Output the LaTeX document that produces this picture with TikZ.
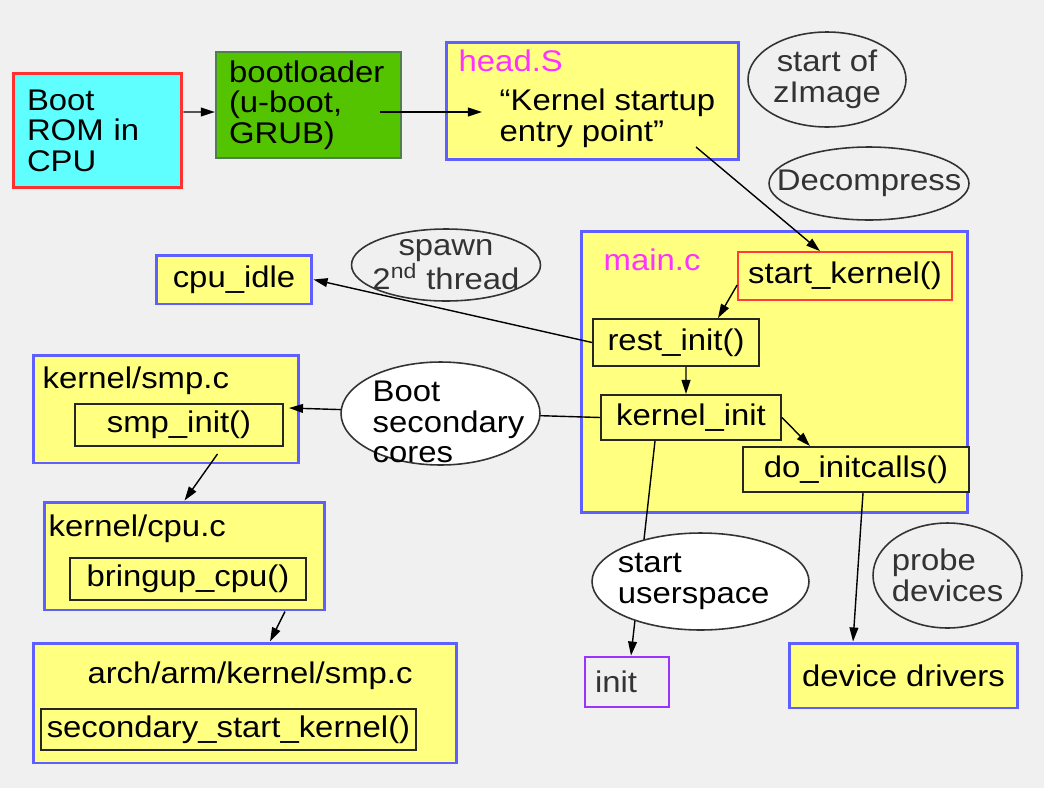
\documentclass[tikz,border=0pt]{standalone}
\usepackage{fontspec}
\setmainfont{Liberation Sans}[FakeStretch=1.1]
\usepackage{tikz}
\usetikzlibrary{shapes.geometric, arrows.meta}
\usepackage{xcolor}
\definecolor{bggray}{HTML}{F0F0F0}
\definecolor{srcyellow}{HTML}{FFFF80}
\definecolor{srcblue}{HTML}{5F5FFF}
\definecolor{romcyan}{HTML}{5FFFFF}
\definecolor{romred}{HTML}{FF3030}
\definecolor{loadgreen}{HTML}{54C400}
\definecolor{loadedge}{HTML}{4F7F4F}
\definecolor{filemagenta}{HTML}{FF33FF}
\definecolor{initpurple}{HTML}{9933FF}
\definecolor{notegray}{HTML}{333333}
\definecolor{kred}{HTML}{FF3B3B}

\begin{document}
\begin{tikzpicture}[->,>={Triangle[length=8pt,width=5pt]}, x=0.02cm, y=-0.02cm, line width=0.8pt,
      every node/.style={font=\fontsize{17}{17.4}\selectfont, inner sep=0pt},
      src/.style={draw=srcblue, line width=1.7pt, fill=srcyellow},
      fn/.style={draw=black!85, line width=1.1pt, fill=srcyellow},
      note/.style={ellipse, draw=notegray, line width=0.9pt},
      notetext/.style={text=notegray, align=center},
      bubble/.style={ellipse, draw=notegray, line width=0.9pt, fill=white},
      file/.style={text=filemagenta}]
      \useasboundingbox (0,0) rectangle (1044,788);
      \fill[bggray] (0,0) rectangle (1044,788);

      \node[draw=romred, fill=romcyan, line width=1.7pt, minimum width=3.38cm, minimum height=2.3cm,
            text width=2.82cm, align=left] (rom) at (97.5,130.5) {Boot\\ROM in\\CPU};
      \node[draw=loadedge, fill=loadgreen, line width=1.3pt, minimum width=3.7cm, minimum height=2.12cm,
            text width=3.18cm, align=left] (loader) at (308.5,105) {bootloader\\(u-boot,\\GRUB)};

      \node[src, minimum width=5.86cm, minimum height=2.36cm] (head) at (592.5,101) {};
      \node[file, anchor=base west] (headlbl) at (458,71) {head.S};
      \node[align=left, anchor=west] (entry) at (499,118) {“Kernel startup\\entry point”};

      \node[note, minimum width=3.16cm, minimum height=1.9cm,
            label={[notetext]center:start of\\zImage}] (zimg) at (827,79.5) {};
      \node[note, minimum width=4cm, minimum height=1.46cm,
            label={[notetext]center:Decompress}] (decomp) at (869,183.5) {};

      \node[src, minimum width=7.74cm, minimum height=5.64cm] (mainc) at (774.5,372) {};
      \node[file, anchor=base west] (mainlbl) at (603,270) {main.c};
      \node[fn, draw=kred, line width=1pt, minimum width=4.28cm, minimum height=0.96cm] (kstart) at (845,276) {start\_kernel()};
      \node[fn, minimum width=3.32cm, minimum height=0.94cm] (rest) at (676,342.5) {rest\_init()};
      \node[fn, minimum width=3.6cm, minimum height=0.9cm] (kinit) at (691,417.5) {kernel\_init};
      \node[fn, minimum width=4.52cm, minimum height=0.9cm] (initcalls) at (856,469.5) {do\_initcalls()};

      \node[src, minimum width=3.12cm, minimum height=0.98cm] (idle) at (234,279.5) {cpu\_idle};
      \node[note, minimum width=3.78cm, minimum height=1.44cm,
            label={[notetext]center:spawn\\2\textsuperscript{nd} thread}] (spawn) at (446,265) {};

      \node[src, minimum width=5.32cm, minimum height=2.16cm] (smpfile) at (166,409) {};
      \node[anchor=base west] (smplbl) at (42,388) {kernel/smp.c};
      \node[fn, minimum width=4.16cm, minimum height=0.84cm] (smpinit) at (179,425) {smp\_init()};

      \node[src, minimum width=5.62cm, minimum height=2.16cm] (cpufile) at (184.5,556) {};
      \node[anchor=base west] (cpulbl) at (48,536) {kernel/cpu.c};
      \node[fn, minimum width=4.72cm, minimum height=0.84cm] (bringup) at (188,579) {bringup\_cpu()};

      \node[src, minimum width=8.48cm, minimum height=2.4cm] (archfile) at (245,703) {};
      \node[anchor=base] (archlbl) at (250,683) {arch/arm/kernel/smp.c};
      \node[fn, minimum width=7.5cm, minimum height=0.82cm] (secstart) at (228.5,729.5) {secondary\_start\_kernel()};

      \node[draw=initpurple, line width=1.6pt, text=notegray, minimum width=1.68cm, minimum height=1cm,
            text width=1.28cm, align=left] (init) at (627,682) {init};
      \node[src, minimum width=4.58cm, minimum height=1.3cm] (drivers) at (903.5,675.5) {device drivers};
      \node[note, minimum width=2.98cm, minimum height=2.1cm,
            label={[notetext, align=left]center:probe\\devices}] (probe) at (947.5,575.5) {};

      \coordinate (loadout) at (380,112);
      \coordinate (entryin) at (482,112);
      \coordinate (headout) at (696,147);

      \path ([yshift=0.37cm]rom.east) edge ([yshift=-0.14cm]loader.west)
            (loadout) edge (entryin)
            (headout) edge ([xshift=-0.5cm]kstart.north)
            ([yshift=-0.18cm]kstart.west) edge ([xshift=0.84cm]rest.north)
            ([xshift=0.2cm]rest.south) edge ([xshift=-0.1cm]kinit.north)
            (kinit.east) edge ([xshift=-0.92cm]initcalls.north)
            (rest.west) edge (idle.east)
            (kinit.west) edge ([xshift=0.1cm,yshift=0.34cm]smpinit.east)
            ([xshift=0.77cm,yshift=-0.14cm]smpinit.south) edge (cpufile.north)
            ([xshift=2.01cm]cpufile.south) edge ([xshift=0.5cm]archfile.north)
            ([xshift=-0.72cm]kinit.south) edge ([xshift=0.08cm]init.north)
            ([xshift=0.14cm]initcalls.south) edge ([xshift=-1.01cm]drivers.north)
            ;

      \node[bubble, minimum width=3.98cm, minimum height=2.06cm] (bsc) at (440.5,413.5) {};
      \node[anchor=west, align=left] (bsctxt) at (372,422) {Boot\\secondary\\cores};
      \node[bubble, minimum width=4.34cm, minimum height=1.94cm,
            label={[align=left, anchor=west]west:\hspace{0.52cm}start\\\hspace{0.52cm}userspace}] (userspace) at (700.5,581.5) {};
    \end{tikzpicture}
\end{document}
